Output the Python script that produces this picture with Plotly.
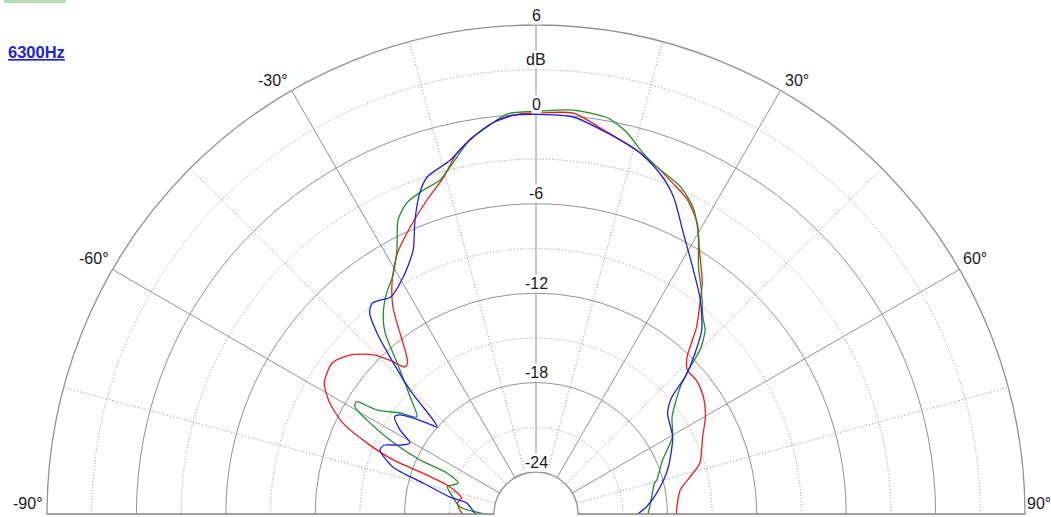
import math
import plotly.graph_objects as go

# Horizontal directivity at 6300 Hz, three measurements.
# Angle in degrees (0 = on axis), level in dB relative to on-axis.
red_theta = [-90, -87, -82, -78, -72.6, -70.1, -69.3, -67.2, -64.8, -61.7, -58.2, -53.4,
             -49.5, -45.7, -43.5, -41.7, -40.3, -37.9, -36.9, -34.6, -31.6, -28.0, -23.7,
             -19.1, -15.4, -12.3, -9.5, -6.3, -2.3, 0.6, 5.3, 10.5, 16.1, 19.2, 22.5, 25.7,
             29.0, 31.8, 35.7, 37.5, 40.7, 43.9, 46.4, 50.2, 55.0, 60.1, 65.2, 72.7, 76.5,
             80.5, 85.5, 90]
red_db = [-21.9, -21.7, -21.5, -21.7, -20.8, -18.75, -16.6, -14.5, -12.5, -11.1, -10.1, -9.8,
          -10.4, -11.5, -12.6, -13.6, -13.5, -12.3, -11.6, -9.9, -8.4, -7.0, -5.8,
          -4.5, -3.4, -2.0, -1.2, -0.4, 0.05, 0.1, 0.2, -0.74, -1.6, -2.15, -2.8, -3.4,
          -4.5, -6.0, -7.7, -8.7, -10.3, -12.2, -12.8, -12.8, -13.1, -13.7, -14.5, -15.3, -16.2,
          -17.0, -17.3, -17.4]

green_theta = [-90, -89, -84.7, -76.3, -72.9, -68.3, -65.3, -65.0, -63.1, -60.9, -59.4, -58.0,
               -56.8, -53.4, -50.8, -47.1, -42.6, -39.8, -37.3, -34.0, -31.1, -27.8, -25.1,
               -22.5, -19.2, -16.0, -13.3, -10.0, -7.2, -4.1, 0, 5.2, 10.2, 13.4, 16.5, 19.2,
               23.8, 27.1, 30.0, 33.4, 36.9, 40.3, 42.6, 45.0, 46.3, 48.6, 54.5, 60.5, 67.0,
               74.3, 75.4, 84.5, 90]
green_db = [-23.6, -23.1, -21.7, -20.9, -20.6, -21.2, -20.2, -18.2, -15.8, -13.8, -12.7, -12.6,
            -14.1, -15.45, -16.5, -15.3, -13.05, -11.0, -9.9, -8.9, -8.2, -6.8, -5.0,
            -4.2, -3.8, -3.5, -2.6, -1.3, -0.64, 0.1, 0.2, 0.4, 0.2, -0.5, -1.55, -2.15,
            -2.8, -3.7, -5.05, -7.0, -8.3, -9.5, -10.05, -11.25, -12.5, -13.9, -15.6, -16.3, -17.6,
            -18.4, -18.6, -19.1, -19.3]

blue_theta = [-90, -89, -80.9, -78.8, -74.7, -71.8, -67.7, -65.7, -63.1, -60.6, -58.3, -55.5,
              -54.0, -52.4, -50.1, -48.7, -47.6, -45.5, -42.9, -41.3, -39.6, -37.9, -36.1,
              -33.9, -29.3, -25.0, -22.4, -19.9, -17.9, -13.7, -10.0, -6.3, -3.3, 0, 5.3,
              10.6, 16.1, 20.0, 23.4, 27.6, 32.4, 37.5, 42.0, 44.6, 47.4, 49.3, 52.6, 60.7,
              71.4, 80.2, 86.4, 90]
blue_db = [-22.8, -22.7, -22.1, -20.9, -19.0, -16.7, -15.5, -15.6, -16.6, -17.1, -16.1, -15.3,
           -15.5, -16.15, -17.3, -18.0, -17.5, -15.0, -12.4, -10.65, -9.3, -8.9, -9.05,
           -9.3, -8.6, -7.3, -5.5, -3.9, -3.05, -2.4, -1.3, -0.4, 0.0, 0.0, -0.06,
           -0.8, -1.6, -2.5, -3.6, -5.5, -7.2, -8.7, -10.2, -11.6, -13.2, -14.8, -15.7, -16.3,
           -17.5, -18.6, -19.4, -20.0]

# Axis scales and labels
db_min, db_max = -24, 6
major_rings = [-24, -18, -12, -6, 0, 6]
minor_rings = [-21, -15, -9, -3, 3]
major_angles = [-90, -60, -30, 0, 30, 60, 90]
minor_angles = [-75, -45, -15, 15, 45, 75]
ring_labels = {6: "6", 3: "dB", 0: "0", -6: "-6", -12: "-12", -18: "-18", -24: "-24"}
angle_labels = [-90, -60, -30, 30, 60, 90]
freq_label = "6300Hz"

W, H = 1051, 517
ML, MR, MT, MB = 47, 26, 25, 3
PW, PH = W - ML - MR, H - MT - MB
R_OUT = PH                      # outer radius of the half disc, px
HOLE = 42 / R_OUT
CX, CY = ML + R_OUT, MT + R_OUT

FONT = "Liberation Sans, Arial, sans-serif"
TXT = "#1a1a1a"
GRID = "#929292"
DOT = "#8e8e8e"


def ring_px(v):
    return HOLE * R_OUT + (v - db_min) / (db_max - db_min) * (1 - HOLE) * R_OUT


def to_paper(px, py):
    return (px - ML) / PW, (H - MB - py) / PH


fig = go.Figure()

series = [
    (red_theta, red_db, "#ee1c1c"),
    (green_theta, green_db, "#1f8f25"),
    (blue_theta, blue_db, "#1f1fe8"),
]
# invisible trace so the dotted-grid subplot is rendered
fig.add_trace(go.Scatterpolar(theta=[0], r=[db_min], mode="markers", marker=dict(opacity=0),
                              subplot="polar", showlegend=False, hoverinfo="skip"))
for th, db, col in series:
    fig.add_trace(go.Scatterpolar(theta=th, r=db, mode="lines",
                                  line=dict(color=col, width=1.3, shape="spline", smoothing=0.7),
                                  subplot="polar2", showlegend=False, hoverinfo="skip"))

common = dict(domain=dict(x=[0, 1], y=[0, 1]), sector=[0, 180], hole=HOLE,
              bgcolor="rgba(0,0,0,0)")
rad_common = dict(range=[db_min, db_max], showticklabels=False, ticks="", showline=False,
                  tickmode="array")
ang_common = dict(rotation=90, direction="clockwise", showticklabels=False, ticks="",
                  tickmode="array")

fig.update_layout(
    width=W, height=H,
    margin=dict(l=ML, r=MR, t=MT, b=MB),
    paper_bgcolor="white",
    polar=dict(**common,
               radialaxis=dict(**rad_common, tickvals=minor_rings, gridcolor=DOT,
                               gridwidth=1, griddash="1px,2px"),
               angularaxis=dict(**ang_common, tickvals=minor_angles, gridcolor=DOT,
                                gridwidth=1, griddash="1px,2px", showline=False)),
    polar2=dict(**common,
                radialaxis=dict(**rad_common, tickvals=major_rings, gridcolor=GRID,
                                gridwidth=1.3),
                angularaxis=dict(**ang_common, tickvals=major_angles, gridcolor=GRID,
                                 gridwidth=1.3, showline=True, linecolor=GRID, linewidth=1.3)),
)

annotations = []
for v, txt in ring_labels.items():
    x, y = to_paper(CX, CY - ring_px(v) - 10)
    annotations.append(dict(x=x, y=y, xref="paper", yref="paper", text=txt, showarrow=False,
                            xanchor="center", yanchor="middle", bgcolor="white", borderpad=0,
                            font=dict(family=FONT, size=16, color=TXT)))

for a in angle_labels:
    rad = math.radians(a)
    px = CX + R_OUT * math.sin(rad)
    py = CY - R_OUT * math.cos(rad)
    x, y = to_paper(px, py)
    annotations.append(dict(x=x, y=y, xref="paper", yref="paper", text=f"{a}°", showarrow=False,
                            xanchor="left" if a > 0 else "right", yanchor="bottom",
                            xshift=(0 if a == 90 else 2) if a > 0 else -2, yshift=0,
                            font=dict(family=FONT, size=16, color=TXT)))

x, y = to_paper(6, 52)
annotations.append(dict(x=x, y=y, xref="paper", yref="paper", text=f"<b><u>{freq_label}</u></b>",
                        showarrow=False, xanchor="left", yanchor="middle",
                        font=dict(family=FONT, size=16.5, color="#2222dd")))
fig.update_layout(annotations=annotations)

# small pale-green tab at the top edge
x0, y0 = to_paper(4, 0)
x1, y1 = to_paper(66, 3)
fig.add_shape(type="rect", xref="paper", yref="paper", x0=x0, x1=x1, y0=y1, y1=y0,
              fillcolor="#b5dcb5", line=dict(width=0), layer="above")

fig.write_html("out.html")
